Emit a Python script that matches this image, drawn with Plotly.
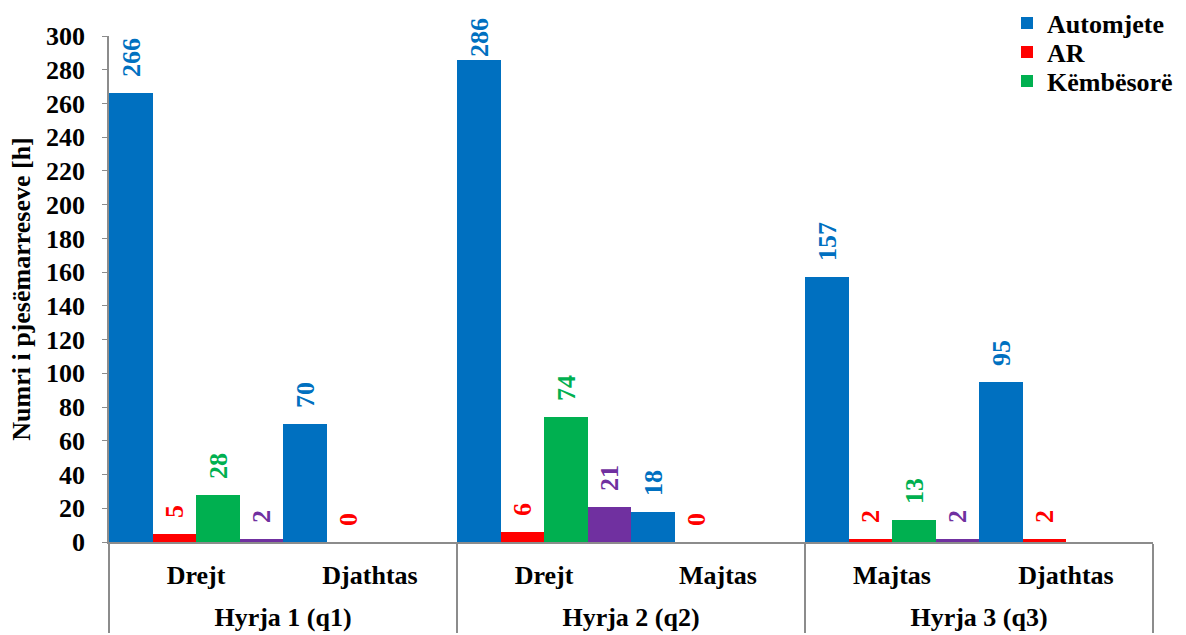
import plotly.graph_objects as go

# Entry groups and turning directions (two-level x axis)
hyrjet = ["Hyrja 1 (q1)", "Hyrja 1 (q1)", "Hyrja 2 (q2)", "Hyrja 2 (q2)", "Hyrja 3 (q3)", "Hyrja 3 (q3)"]
drejtimet = ["Drejt", "Djathtas", "Drejt", "Majtas", "Majtas", "Djathtas"]

# Participant counts per hour
automjete = [266, 70, 286, 18, 157, 95]
ar = [5, 0, 6, 0, 2, 2]
kembesore = [28, None, 74, None, 13, None]
te_tjera = [2, None, 21, None, 2, None]

series = [
    ("Automjete", automjete, "#0070C0", "legend"),
    ("AR", ar, "#FF0000", "legend2"),
    ("Këmbësorë", kembesore, "#00B050", "legend3"),
    ("Të tjera", te_tjera, "#7030A0", None),
]

# Plotly orders sub-categories by first appearance, so feed the points in an
# order where "Majtas" is met before "Djathtas" (positions stay the same).
order = [0, 3, 1, 2, 4, 5]

FONT = "Liberation Serif"
Y_MAX = 300
PLOT_TOP, PLOT_H = 36, 635 - 36 - 93

# Wide invisible spacers around the direction names give the first label row
# a taller box, which moves the entry-name row further down.
SPACER = "<span style='font-size:44px'>\u00a0</span>"
dir_labels = [SPACER + d + SPACER for d in drejtimet]


def label(v):
    if v is None:
        return None
    # labels of the tallest bars sit closer to the bar so they stay on the page
    pad = "" if v > 0.93 * Y_MAX else "\u00a0\u00a0"
    return pad + str(v)


fig = go.Figure()
for name, vals, color, leg in series:
    fig.add_trace(go.Bar(
        x=[[hyrjet[i] for i in order], [dir_labels[i] for i in order]],
        y=[vals[i] for i in order],
        name=name,
        showlegend=leg is not None,
        legend=leg or "legend",
        marker=dict(color=color, line=dict(width=0)),
        text=[label(vals[i]) for i in order],
        textposition="outside",
        textangle=-90,
        constraintext="none",
        cliponaxis=False,
        textfont=dict(family=FONT, size=26, color=color, weight="bold"),
    ))

legend_font = dict(family=FONT, size=26, color="black", weight="bold")
legend_rows = {"legend": 23, "legend2": 52, "legend3": 81}
legends = {
    key: dict(
        x=(1007 - 109) / (1186 - 109 - 33),
        y=1 + (PLOT_TOP - yc) / PLOT_H,
        xref="paper", yref="paper",
        xanchor="left", yanchor="middle",
        font=legend_font,
        bgcolor="rgba(0,0,0,0)",
    )
    for key, yc in legend_rows.items()
}

fig.update_layout(
    width=1186,
    height=635,
    margin=dict(l=109, r=33, t=36, b=93, autoexpand=False),
    paper_bgcolor="white",
    plot_bgcolor="white",
    barmode="group",
    bargap=0,
    bargroupgap=0,
    font=dict(family=FONT, size=26, color="black", weight="bold"),
    showlegend=True,
    **legends,
)

fig.update_xaxes(
    type="multicategory",
    showline=True,
    linecolor="#8c8c8c",
    linewidth=1.5,
    showgrid=False,
    ticks="",
    showdividers=True,
    dividercolor="#8c8c8c",
    dividerwidth=1.5,
    ticklabelstandoff=9,
    tickfont=dict(family=FONT, size=26, color="black", weight="bold"),
)

fig.update_yaxes(
    range=[0, Y_MAX],
    dtick=20,
    showline=True,
    linecolor="#8c8c8c",
    linewidth=1.5,
    showgrid=False,
    zeroline=False,
    ticks="outside",
    ticklen=5,
    tickcolor="#8c8c8c",
    ticklabelstandoff=12,
    tickfont=dict(family=FONT, size=26, color="black", weight="bold"),
    title=dict(
        text="Numri i pjesëmarreseve [h]",
        font=dict(family=FONT, size=26, color="black", weight="bold"),
        standoff=8,
    ),
)

fig.write_html("out.html")
